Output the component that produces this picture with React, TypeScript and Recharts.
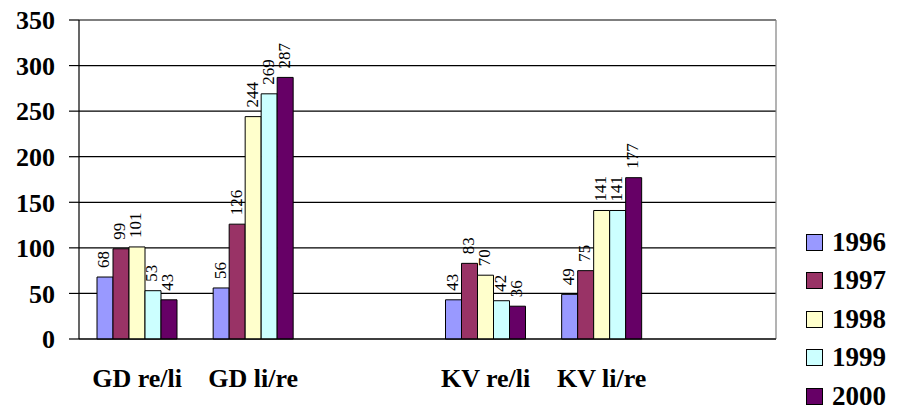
import React from "react"
import { BarChart, Bar, XAxis, YAxis, CartesianGrid, Legend, LabelList, ReferenceLine } from "recharts"

const categories = ["GD re/li", "GD li/re", "", "KV re/li", "KV li/re", ""]
const years = ["1996", "1997", "1998", "1999", "2000"]
const v1996 = [68, 56, null, 43, 49, null]
const v1997 = [99, 126, null, 83, 75, null]
const v1998 = [101, 244, null, 70, 141, null]
const v1999 = [53, 269, null, 42, 141, null]
const v2000 = [43, 287, null, 36, 177, null]
const yTicks = [0, 50, 100, 150, 200, 250, 300, 350]
const boundaryTicks = [0, 1, 2, 3, 4, 5, 6]

const COLORS = ["#9999FF", "#993366", "#FFFFCC", "#CCFFFF", "#660066"]
const FONT = "Liberation Serif, Times New Roman, serif"

const seriesValues = [v1996, v1997, v1998, v1999, v2000]

const data = categories.map((name, i) => {
  const row: Record<string, any> = { name, pos: i + 0.5 }
  years.forEach((y, k) => {
    row[y] = seriesValues[k][i]
  })
  return row
})

const renderLabel = (props: any) => {
  const { x, y, width, value } = props
  if (value == null) return null
  const cx = Number(x) + Number(width) / 2 - 1
  const ty = Number(y) - 9
  return (
    <text
      x={cx}
      y={ty}
      transform={`rotate(-90 ${cx} ${ty})`}
      textAnchor="start"
      dominantBaseline="central"
      fontSize={17}
      fontFamily={FONT}
      fill="#000"
    >
      {value}
    </text>
  )
}

const LegendContent = () => (
  <div style={{ fontFamily: FONT }}>
    {years.map((y, k) => (
      <div key={y} style={{ display: "flex", alignItems: "center", height: 38.5 }}>
        <span
          style={{
            display: "inline-block",
            width: 15,
            height: 15,
            background: COLORS[k],
            border: "1px solid #000",
            marginRight: 9,
          }}
        />
        <span style={{ fontSize: 27, fontWeight: "bold", color: "#000" }}>{y}</span>
      </div>
    ))}
  </div>
)

export default function App() {
  return (
    <div style={{ position: "fixed", left: 0, top: 0, background: "#fff" }}>
      <BarChart
        width={904}
        height={417}
        data={data}
        margin={{ top: 20, right: 128, bottom: 0, left: 0 }}
        barCategoryGap={18}
        barGap={0}
      >
        <CartesianGrid vertical={false} stroke="#000" strokeWidth={1.2} yAxisId="y" />
        <XAxis
          xAxisId="b"
          type="number"
          dataKey="pos"
          domain={[0, 6]}
          ticks={boundaryTicks}
          tick={false}
          tickSize={7}
          tickLine={{ stroke: "#000", strokeWidth: 1.2 }}
          axisLine={false}
          height={0}
          allowDataOverflow
        />
        <XAxis
          xAxisId="cat"
          dataKey="name"
          height={78}
          tickLine={false}
          tickSize={0}
          tickMargin={30}
          axisLine={{ stroke: "#000", strokeWidth: 1.2 }}
          interval={0}
          tick={{ fontSize: 26, fontWeight: "bold", fontFamily: FONT, fill: "#000" }}
        />
        <YAxis
          yAxisId="y"
          width={79}
          domain={[0, 350]}
          ticks={yTicks}
          tickSize={10}
          tickMargin={14}
          axisLine={{ stroke: "#000", strokeWidth: 1.2 }}
          tickLine={{ stroke: "#000", strokeWidth: 1.2 }}
          tick={{ fontSize: 26, fontWeight: "bold", fontFamily: FONT, fill: "#000" }}
        />
        <ReferenceLine yAxisId="y" xAxisId="cat" y={350} stroke="#808080" strokeWidth={1.2} />
        <ReferenceLine yAxisId="y" xAxisId="b" x={6} stroke="#808080" strokeWidth={1.2} />
        <Legend
          layout="vertical"
          align="center"
          verticalAlign="middle"
          content={<LegendContent />}
          wrapperStyle={{ position: "absolute", left: 806, top: 223, width: 98 }}
        />
        {years.map((y, k) => (
          <Bar
            key={y}
            dataKey={y}
            xAxisId="cat"
            yAxisId="y"
            fill={COLORS[k]}
            stroke="#000"
            strokeWidth={1}
            isAnimationActive={false}
          >
            <LabelList dataKey={y} content={renderLabel} />
          </Bar>
        ))}
      </BarChart>
    </div>
  )
}
